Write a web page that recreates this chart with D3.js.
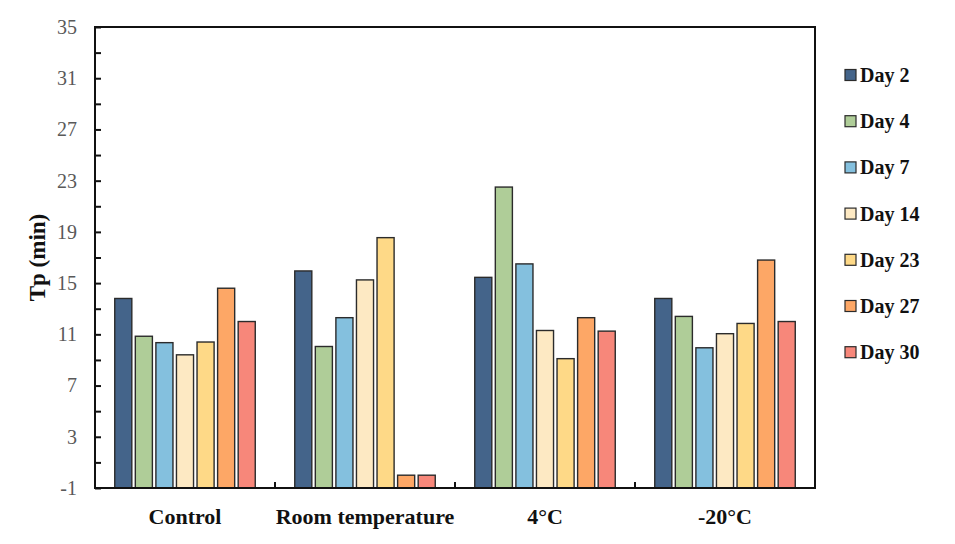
<!DOCTYPE html>
<html>
<head>
<meta charset="utf-8">
<script src="https://cdn.jsdelivr.net/npm/d3@7"></script>
<style>
  body { margin: 0; background: #fff; }
  text { font-family: "Liberation Serif", "Times New Roman", serif; }
</style>
</head>
<body>
<svg id="chart" width="955" height="544"></svg>
<script>
// data
const groups = ["Control", "Room temperature", "4\u00b0C", "-20\u00b0C"];
const days = ["Day 2", "Day 4", "Day 7", "Day 14", "Day 23", "Day 27", "Day 30"];
const colors = ["#44648a", "#afcd98", "#84c0de", "#fde9c3", "#fed987", "#fda766", "#f7877a"];
const day2 = [13.8, 15.95, 15.45, 13.8];
const day4 = [10.85, 10.05, 22.5, 12.4];
const day7 = [10.35, 12.3, 16.5, 9.95];
const day14 = [9.4, 15.25, 11.3, 11.05];
const day23 = [10.4, 18.55, 9.1, 11.85];
const day27 = [14.6, 0.0, 12.3, 16.8];
const day30 = [12.0, 0.0, 11.25, 12.0];
const series = [day2, day4, day7, day14, day23, day27, day30];
const yTickLabels = [-1, 3, 7, 11, 15, 19, 23, 27, 31, 35];

const svg = d3.select("#chart");
const mLeft = 95, mRight = 815, mTop = 27, mBottom = 488;

const x = d3.scaleBand().domain(groups).range([mLeft, mRight]).paddingInner(0).paddingOuter(0);
const xi = d3.scaleBand().domain(days).range([0, x.bandwidth()]).paddingInner(0.17).paddingOuter(0.96);
const y = d3.scaleLinear().domain([-1, 35]).range([mBottom, mTop]);

// bars
groups.forEach((g, gi) => {
  svg.append("g").selectAll("rect")
    .data(days)
    .join("rect")
    .attr("x", d => x(g) + xi(d))
    .attr("y", (d, i) => y(series[i][gi]))
    .attr("width", xi.bandwidth())
    .attr("height", (d, i) => y(-1) - y(series[i][gi]))
    .attr("fill", (d, i) => colors[i])
    .attr("stroke", "#2b2b2b")
    .attr("stroke-width", 1.4);
});

// y axis with ticks every 2, labels every 4
const yAxis = d3.axisLeft(y)
  .tickValues(d3.range(-1, 36, 2))
  .tickSizeInner(-6).tickSizeOuter(0)
  .tickFormat(d => yTickLabels.includes(d) ? d : "");
const ya = svg.append("g").attr("transform", `translate(${mLeft},0)`).call(yAxis);
ya.select(".domain").remove();
ya.selectAll("line").attr("stroke", "#111").attr("stroke-width", 2);
ya.selectAll("text").attr("x", -18).attr("fill", "#595959")
  .style("font-size", "20px");

// x axis ticks at group boundaries (inside)
const xa = svg.append("g").attr("transform", `translate(0,${mBottom})`);
xa.selectAll("line")
  .data(groups.slice(1))
  .join("line")
  .attr("x1", d => x(d)).attr("x2", d => x(d))
  .attr("y1", 0).attr("y2", -6)
  .attr("stroke", "#111").attr("stroke-width", 2);
xa.selectAll("text")
  .data(groups)
  .join("text")
  .attr("x", d => x(d) + x.bandwidth() / 2)
  .attr("y", 36)
  .attr("text-anchor", "middle")
  .attr("font-weight", "bold")
  .style("font-size", "22px")
  .attr("fill", "#111")
  .text(d => d);

// frame
svg.append("rect")
  .attr("x", mLeft).attr("y", mTop)
  .attr("width", mRight - mLeft).attr("height", mBottom - mTop)
  .attr("fill", "none").attr("stroke", "#111").attr("stroke-width", 2);

// y title
svg.append("text")
  .attr("transform", `translate(45,${(mTop + mBottom) / 2}) rotate(-90)`)
  .attr("text-anchor", "middle")
  .attr("font-weight", "bold")
  .style("font-size", "23px")
  .attr("fill", "#111")
  .text("Tp (min)");

// legend
const leg = svg.append("g").selectAll("g")
  .data(days)
  .join("g")
  .attr("transform", (d, i) => `translate(845,${75 + i * 46.2})`);
leg.append("rect")
  .attr("x", 0).attr("y", -5.5)
  .attr("width", 11).attr("height", 11)
  .attr("fill", (d, i) => colors[i])
  .attr("stroke", "#2b2b2b").attr("stroke-width", 1.2);
leg.append("text")
  .attr("x", 15).attr("y", 7)
  .attr("font-weight", "bold")
  .style("font-size", "20px")
  .attr("fill", "#111")
  .text(d => d);
</script>
</body>
</html>
